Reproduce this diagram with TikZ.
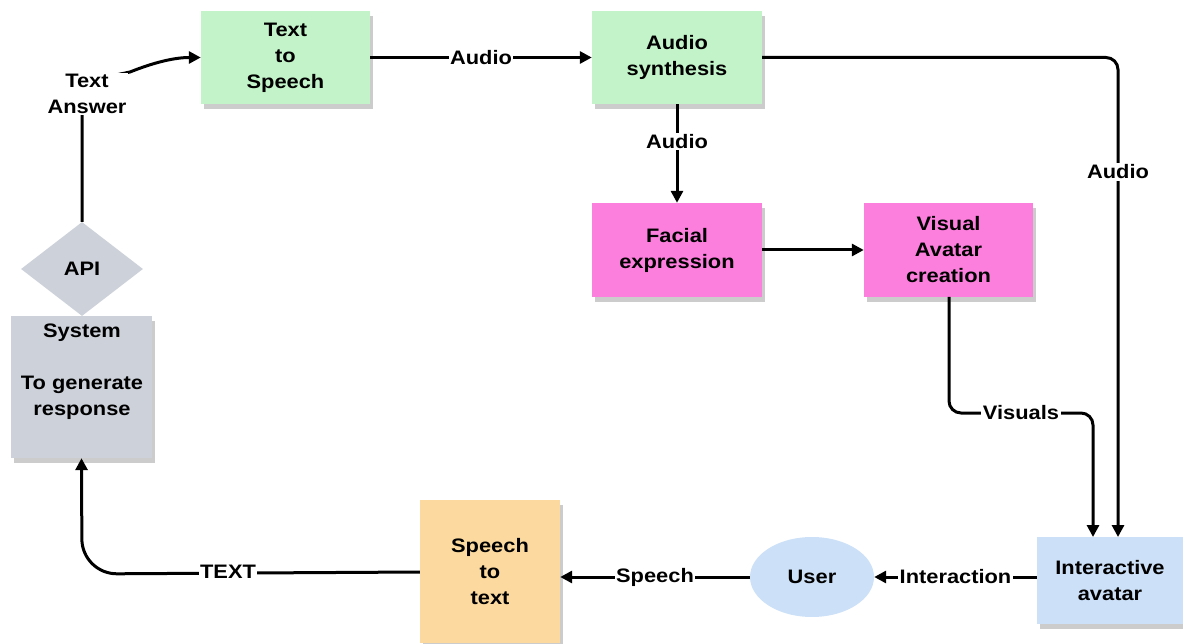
\documentclass[tikz,border=0pt]{standalone}
\usepackage{fontspec}
\setmainfont{Liberation Sans}[FakeStretch=1.12]
\usetikzlibrary{shapes.geometric,arrows.meta,shadows}
\definecolor{cgreen}{HTML}{C3F3C8}
\definecolor{cmag}{HTML}{FD7FDD}
\definecolor{cgray}{HTML}{CDD2DA}
\definecolor{corange}{HTML}{FCDA9F}
\definecolor{cblue}{HTML}{CCE0F7}
\begin{document}
\begin{tikzpicture}[x=1pt,y=-1pt,
  every node/.style={font=\fontsize{19.5}{26}\selectfont\bfseries, align=center, inner sep=0pt},
  box/.style={rectangle, draw=none, drop shadow={shadow xshift=3pt,shadow yshift=-5pt,fill=black,opacity=0.2}},
  lab/.style={fill=white, inner sep=1.5pt},
  conn/.style={line width=3pt, draw=black},
  arr/.style={conn, -{Triangle[length=12pt,width=12pt]}}]
\useasboundingbox (0,0) rectangle (1183,644);
% nodes
\node[box, fill=cgreen, minimum width=169pt, minimum height=93pt] (tts) at (285.5,57.5) {Text\\to\\Speech};
\node[box, fill=cgreen, minimum width=170pt, minimum height=93pt] (as) at (677,57.5) {Audio\\synthesis};
\node[box, fill=cmag, minimum width=170pt, minimum height=94pt] (fe) at (677,250) {Facial\\expression};
\node[box, fill=cmag, minimum width=169pt, minimum height=94pt] (va) at (948.5,250) {Visual\\Avatar\\creation};
\node[box, fill=cgray, minimum width=141pt, minimum height=142pt] (sys) at (81.5,387) {};
\node (systxt) at (82,372) {System\\[26pt]To generate\\response};
\node[diamond, fill=cgray, minimum width=122pt, minimum height=94pt] (api) at (82,269) {API};
\node[box, fill=corange, minimum width=140pt, minimum height=143pt] (stt) at (490,571.5) {Speech\\to\\text};
\node[ellipse, fill=cblue, minimum width=124pt, minimum height=80pt] (user) at (812,577) {User};
\node[box, fill=cblue, minimum width=146pt, minimum height=87pt] (ia) at (1110,580.5) {Interactive\\avatar};
% connectors
\draw[arr] (api.north) -- (82,82) -- (130,72) .. controls (155,62) and (175,57.5) .. (tts.west);
\node[lab] (ta) at (87,94) {Text\\Answer};
\draw[arr] (tts.east) -- node[lab] (l1) {Audio} (as.west);
\draw[arr] (as.south) -- node[lab, pos=0.38] (l2) {Audio} (fe.north);
\draw[arr, rounded corners=12pt] (as.east) -- (1118,57.5) -- (1118,537);
\node[lab] (l3) at (1118,172) {Audio};
\draw[arr] (fe.east) -- (va.west);
\draw[arr, rounded corners=12pt] (949,297) -- (949,413) -- (1093,413) -- (1093,537);
\node[lab] (l4) at (1021,413) {Visuals};
\draw[arr] (ia.west |- user.east) -- node[lab, pos=0.5] (l5) {Interaction} (user.east);
\draw[arr] (user.west) -- node[lab] (l6) {Speech} (stt.east |- user.west);
\draw[arr, rounded corners=35pt] (stt.west |- 0,572) -- (82,574) -- (sys.south);
\node[lab] (l7) at (228,572) {TEXT};
\end{tikzpicture}
\end{document}
